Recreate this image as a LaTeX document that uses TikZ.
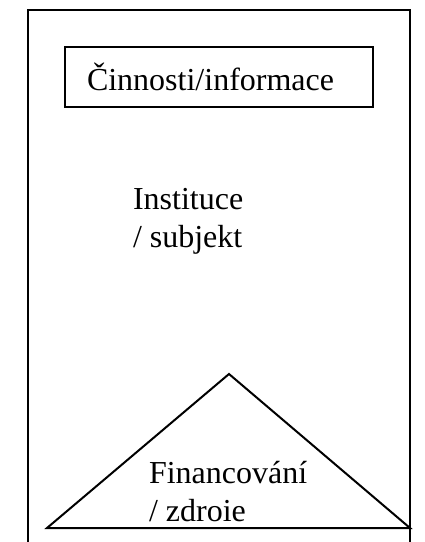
\documentclass[tikz,border=0pt]{standalone}
\usepackage{fontspec}
\setmainfont{Liberation Serif}
\begin{document}
\begin{tikzpicture}[x=0.375pt, y=-0.375pt, line width=0.75pt,
    every node/.style={font=\fontsize{12pt}{14pt}\selectfont},
    infobox/.style={draw, align=left, text width=99pt, inner xsep=8.25pt,
      minimum height=22.5pt},
    plaintext/.style={align=left, inner sep=0pt, anchor=base west}]
    \useasboundingbox (0,0) rectangle (424,542);
    \clip (0,0) rectangle (424,542);

    % outer frame, runs past the lower edge
    \draw (28,10) rectangle (410,560);

    \node [infobox] (cinnosti) at (219,77) {Činnosti/informace};
    \node [plaintext] (instituce) at (132,247) {Instituce\\/ subjekt};

    % triangle
    \coordinate (apex) at (229,374);
    \coordinate (baseL) at (47,528);
    \coordinate (baseR) at (410,528);
    \draw (baseL) -- (apex) -- (baseR) -- cycle;

    \node [plaintext] (financovani) at (148,521) {Financování\\/ zdroie};
\end{tikzpicture}
\end{document}
